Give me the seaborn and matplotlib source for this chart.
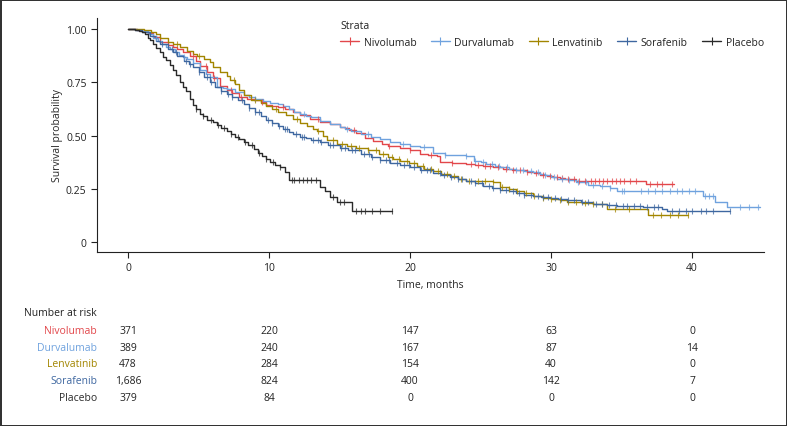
import numpy as np
import pandas as pd
import seaborn as sns
import matplotlib.pyplot as plt
from matplotlib.lines import Line2D
from matplotlib.transforms import blended_transform_factory

# step points (time in months, survival probability)
niv_t = [0, 0.6, 1.0, 1.4, 1.8, 2.3, 2.8, 3.2, 3.5, 3.9, 4.4, 4.8, 5.1, 5.6, 6.0, 6.5, 7.0, 7.4, 7.9, 8.4,
         8.9, 9.4, 9.8, 10.2, 10.6, 11.1, 11.7, 12.2, 12.9, 13.6, 14.3, 15.0, 15.4, 15.7, 16.2, 16.8, 17.4,
         18.0, 18.4, 19.3, 20.0, 20.7, 21.3, 21.9, 22.1, 23.0, 24.0, 24.6, 25.2, 25.9, 26.6, 27.2, 28.3, 28.8,
         29.2, 29.7, 30.1, 30.6, 31.0, 31.8, 36.7, 38.7]
niv_s = [1.0, 0.995, 0.99, 0.98, 0.965, 0.94, 0.925, 0.915, 0.906, 0.89, 0.873, 0.85, 0.826, 0.80, 0.77,
         0.733, 0.715, 0.70, 0.68, 0.67, 0.665, 0.657, 0.645, 0.64, 0.634, 0.625, 0.61, 0.595, 0.577, 0.565,
         0.555, 0.54, 0.535, 0.525, 0.51, 0.49, 0.475, 0.46, 0.45, 0.44, 0.43, 0.415, 0.41, 0.405, 0.375,
         0.37, 0.365, 0.362, 0.358, 0.35, 0.345, 0.34, 0.33, 0.325, 0.315, 0.31, 0.305, 0.30, 0.295, 0.287,
         0.272, 0.272]

dur_t = [0, 0.6, 1.0, 1.4, 1.8, 2.1, 2.4, 2.7, 3.0, 3.3, 3.6, 3.9, 4.2, 4.6, 5.1, 5.5, 5.8, 6.3, 6.7, 7.0,
         7.6, 8.2, 8.6, 9.0, 9.6, 10.1, 10.6, 11.0, 11.4, 11.8, 12.2, 12.6, 13.0, 13.6, 14.3, 15.0, 15.4, 15.8,
         16.5, 17.2, 17.9, 18.6, 19.3, 20.0, 20.7, 21.6, 22.5, 24.0, 24.5, 25.0, 25.4, 26.0, 26.4, 27.0, 27.5,
         28.1, 28.7, 29.2, 29.6, 30.0, 30.4, 31.2, 31.8, 32.6, 33.5, 34.2, 34.7, 40.8, 41.6, 42.5, 44.8]
dur_s = [1.0, 0.995, 0.99, 0.975, 0.96, 0.945, 0.93, 0.918, 0.905, 0.89, 0.88, 0.87, 0.86, 0.84, 0.81, 0.79,
         0.775, 0.73, 0.725, 0.72, 0.705, 0.69, 0.68, 0.67, 0.66, 0.655, 0.65, 0.64, 0.625, 0.612, 0.60,
         0.592, 0.585, 0.57, 0.555, 0.54, 0.53, 0.52, 0.507, 0.495, 0.483, 0.47, 0.46, 0.452, 0.446, 0.42,
         0.41, 0.404, 0.38, 0.375, 0.365, 0.358, 0.352, 0.345, 0.34, 0.335, 0.33, 0.32, 0.315, 0.305, 0.296,
         0.29, 0.28, 0.27, 0.263, 0.255, 0.24, 0.216, 0.19, 0.164, 0.164]

len_t = [0, 1.1, 1.6, 2.0, 2.3, 2.8, 3.2, 3.7, 4.2, 4.6, 4.9, 5.4, 5.8, 6.0, 6.5, 7.0, 7.2, 7.6, 7.9, 8.2,
         8.7, 9.4, 9.8, 10.2, 10.6, 11.2, 11.7, 12.2, 12.7, 13.1, 13.4, 13.8, 14.1, 14.8, 15.5, 16.2, 17.0,
         17.8, 18.4, 18.8, 19.3, 19.9, 20.5, 21.0, 21.6, 22.2, 22.8, 23.4, 24.0, 25.9, 26.4, 27.0, 27.5, 28.1,
         28.7, 29.4, 30.0, 30.6, 31.1, 32.2, 33.0, 34.0, 36.9, 39.7]
len_s = [1.0, 0.995, 0.985, 0.977, 0.96, 0.94, 0.93, 0.915, 0.895, 0.885, 0.875, 0.86, 0.845, 0.82, 0.80,
         0.78, 0.76, 0.74, 0.715, 0.69, 0.665, 0.655, 0.64, 0.625, 0.61, 0.595, 0.577, 0.56, 0.545, 0.53,
         0.52, 0.50, 0.48, 0.462, 0.45, 0.44, 0.43, 0.415, 0.40, 0.39, 0.38, 0.37, 0.357, 0.345, 0.333, 0.32,
         0.31, 0.298, 0.286, 0.28, 0.26, 0.25, 0.24, 0.228, 0.216, 0.208, 0.20, 0.195, 0.19, 0.185, 0.178,
         0.155, 0.127, 0.127]

sor_t = [0, 0.5, 1.0, 1.56, 2.0, 2.3, 2.8, 3.2, 3.5, 4.0, 4.3, 4.6, 5.0, 5.4, 5.8, 6.2, 6.6, 7.0, 7.4, 7.8,
         8.2, 8.6, 9.0, 9.4, 9.8, 10.2, 10.6, 11.0, 11.4, 11.7, 12.2, 12.6, 13.0, 13.6, 14.2, 15.0, 15.6, 16.5,
         17.2, 17.9, 18.6, 19.3, 20.0, 20.7, 21.6, 22.2, 22.8, 23.4, 24.0, 24.6, 25.2, 25.8, 26.4, 27.0, 27.5,
         28.1, 28.7, 29.3, 29.9, 30.5, 31.1, 32.1, 33.0, 34.0, 34.7, 35.5, 36.5, 37.9, 38.2, 42.7]
sor_s = [1.0, 0.995, 0.985, 0.967, 0.945, 0.93, 0.905, 0.89, 0.875, 0.85, 0.835, 0.82, 0.80, 0.775, 0.75,
         0.73, 0.71, 0.695, 0.68, 0.665, 0.648, 0.63, 0.61, 0.59, 0.575, 0.56, 0.545, 0.53, 0.518, 0.507,
         0.495, 0.487, 0.48, 0.468, 0.455, 0.44, 0.43, 0.415, 0.40, 0.385, 0.37, 0.36, 0.35, 0.34, 0.325,
         0.315, 0.305, 0.295, 0.285, 0.275, 0.265, 0.255, 0.245, 0.238, 0.23, 0.222, 0.215, 0.21, 0.205, 0.2,
         0.197, 0.19, 0.178, 0.172, 0.17, 0.167, 0.164, 0.155, 0.145, 0.145]

pla_t = [0, 0.5, 0.8, 1.0, 1.2, 1.4, 1.56, 1.8, 2.0, 2.3, 2.5, 2.7, 3.0, 3.2, 3.4, 3.7, 3.9, 4.1, 4.4, 4.6,
         4.8, 5.1, 5.3, 5.6, 6.0, 6.3, 6.6, 7.0, 7.3, 7.6, 7.9, 8.2, 8.5, 8.9, 9.2, 9.5, 9.8, 10.1, 10.4, 10.8,
         11.1, 11.4, 13.6, 14.0, 14.3, 14.8, 15.9, 18.7]
pla_s = [1.0, 0.995, 0.99, 0.985, 0.975, 0.96, 0.95, 0.93, 0.91, 0.89, 0.87, 0.855, 0.83, 0.81, 0.785, 0.75,
         0.73, 0.71, 0.67, 0.645, 0.625, 0.60, 0.59, 0.575, 0.563, 0.55, 0.535, 0.52, 0.505, 0.495, 0.483,
         0.47, 0.455, 0.437, 0.42, 0.405, 0.39, 0.375, 0.36, 0.35, 0.33, 0.29, 0.26, 0.24, 0.21, 0.19, 0.147,
         0.147]

# censoring times
niv_c = [4.6, 5.5, 6.1, 7.3, 8.0, 9.5, 11.0, 13.5, 16.0, 18.5, 20.0, 21.5, 23.0, 24.3, 24.8, 25.3, 25.7, 26.2,
         26.8, 27.3, 27.8, 28.3, 28.9, 29.4, 29.9, 30.4, 30.8, 31.2, 31.6, 32.0, 32.4, 32.8, 33.1, 33.4, 33.7,
         34.0, 34.3, 34.6, 34.9, 35.2, 35.6, 36.0, 37.0, 37.5, 37.9, 38.6]
dur_c = [2.0, 4.0, 9.0, 12.5, 15.5, 17.0, 19.5, 21.0, 22.5, 24.0, 24.6, 25.2, 25.8, 26.3, 26.9, 27.5, 28.0, 28.6,
         29.1, 29.6, 30.2, 30.8, 31.3, 31.9, 32.5, 33.0, 33.6, 34.2, 35.0, 35.2, 36.4, 36.9, 37.4, 37.9, 38.4,
         38.9, 39.3, 39.8, 40.2, 40.9, 41.2, 41.5, 43.4, 44.0, 44.7]
len_c = [3.5, 5.0, 7.5, 9.0, 10.5, 12.0, 13.5, 14.5, 15.2, 15.8, 16.4, 17.0, 17.6, 18.1, 18.7, 19.2, 19.8, 20.3,
         20.9, 21.5, 22.0, 22.6, 23.1, 23.6, 24.2, 24.8, 25.3, 25.9, 26.5, 27.0, 27.6, 28.2, 28.8, 29.4, 30.0,
         30.6, 31.2, 31.8, 32.4, 33.0, 33.6, 34.5, 35.5, 37.2, 37.8, 38.4, 39.0, 39.7]
sor_c = [2.4, 3.1, 3.4, 4.1, 4.4, 5.0, 5.6, 5.9, 6.6, 7.1, 7.4, 8.1, 8.6, 9.0, 9.3, 9.9, 10.2, 10.7, 11.1, 11.3,
         11.9, 12.3, 12.5, 13.1, 13.5, 13.7, 14.3, 14.5, 15.1, 15.4, 15.9, 16.1, 16.7, 17.1, 17.3, 17.9, 18.3,
         18.5, 19.1, 19.6, 19.9, 20.3, 20.8, 21.2, 21.4, 22.1, 22.4, 22.9, 23.4, 23.7, 24.3, 24.6, 25.1, 25.6,
         25.9, 26.4, 26.8, 27.3, 27.7, 28.1, 28.6, 29.1, 29.4, 29.8, 30.3, 30.7, 31.2, 31.6, 32.2, 32.6, 33.2,
         33.6, 34.1, 34.6, 35.1, 35.4, 35.9, 36.3, 36.8, 37.3, 37.6, 38.6, 39.1, 39.6, 40.0, 40.6, 41.0, 41.5,
         42.7]
pla_c = [4.8, 5.3, 5.9, 6.4, 6.8, 7.3, 7.8, 8.3, 8.8, 9.3, 9.8, 10.3, 10.8, 11.6, 11.8, 12.1, 12.4, 12.7, 13.0,
         13.3, 14.5, 15.0, 15.3, 16.2, 16.5, 16.8, 17.3, 17.9, 18.7]

strata = ['Nivolumab', 'Durvalumab', 'Lenvatinib', 'Sorafenib', 'Placebo']
colors = ['#e2474b', '#6fa2de', '#a28500', '#3e67a0', '#2a2a2a']

risk_times = [0, 10, 20, 30, 40]
risk_niv = ['371', '220', '147', '63', '0']
risk_dur = ['389', '240', '167', '87', '14']
risk_len = ['478', '284', '154', '40', '0']
risk_sor = ['1,686', '824', '400', '142', '7']
risk_pla = ['379', '84', '0', '0', '0']

curves = [(niv_t, niv_s, niv_c), (dur_t, dur_s, dur_c), (len_t, len_s, len_c),
          (sor_t, sor_s, sor_c), (pla_t, pla_s, pla_c)]
risk = [risk_niv, risk_dur, risk_len, risk_sor, risk_pla]

rows = []
for name, (t, s, c) in zip(strata, curves):
    rows.append(pd.DataFrame({'time': t, 'surv': s, 'strata': name}))
df = pd.concat(rows, ignore_index=True)

sns.set_style('ticks')
plt.rcParams['font.family'] = ['Open Sans', 'DejaVu Sans']
plt.rcParams['text.color'] = '#222222'

fig = plt.figure(figsize=(7.87, 4.27), dpi=100)
ax = fig.add_axes([0.1233, 0.4075, 0.8475, 0.548])
pal = dict(zip(strata, colors))

sns.lineplot(data=df, x='time', y='surv', hue='strata', palette=pal, estimator=None, sort=False,
             drawstyle='steps-post', linewidth=1.0, legend=False, ax=ax)

# censor marks sit on the step curve at each censoring time
for name, (t, s, c) in zip(strata, curves):
    idx = np.searchsorted(np.array(t), np.array(c), side='right') - 1
    ys = np.array(s)[idx]
    ax.plot(c, ys, ls='none', marker='|', ms=5, mew=0.8, color=pal[name], alpha=0.75)

ax.set_xlim(-2.2, 45.1)
ax.set_ylim(-0.047, 1.052)
ax.set_xticks([0, 10, 20, 30, 40])
ax.set_yticks([0, 0.25, 0.5, 0.75, 1.0])
ax.set_yticklabels(['0', '0.25', '0.50', '0.75', '1.00'])
ax.tick_params(labelsize=7.5, length=4, width=0.8, colors='#222222')
ax.set_xlabel('Time, months', fontsize=7.5, labelpad=4)
ax.set_ylabel('Survival probability', fontsize=7.5, labelpad=2.5)
for sp in ['left', 'bottom']:
    ax.spines[sp].set_linewidth(0.8)
    ax.spines[sp].set_color('#222222')
sns.despine(ax=ax)

handles = [Line2D([0], [0], color=c, lw=1.0, marker='|', ms=6, mew=0.8) for c in colors]
leg = ax.legend(handles, strata, title='Strata', ncol=5, loc='upper left', bbox_to_anchor=(0.3505, 1.03),
                frameon=False, fontsize=7.5, title_fontsize=7.5, handlelength=1.8, handletextpad=0.45,
                columnspacing=1.4, alignment='left')

# number at risk table
tr = blended_transform_factory(ax.transData, fig.transFigure)
fig.text(0.1233, 1 - 313 / 427, 'Number at risk', ha='right', va='center', fontsize=7.5)
row_y = [332, 349, 365, 382, 399]
for name, col, vals, py in zip(strata, colors, risk, row_y):
    fig.text(0.1233, 1 - py / 427, name, ha='right', va='center', fontsize=7.5, color=col)
    for tx, v in zip(risk_times, vals):
        ax.text(tx, 1 - py / 427, v, transform=tr, ha='center', va='center', fontsize=7.5, color='#222222')

fig.patch.set_edgecolor('#333333')
fig.patch.set_linewidth(2)

fig.savefig('out.png', dpi=100)
